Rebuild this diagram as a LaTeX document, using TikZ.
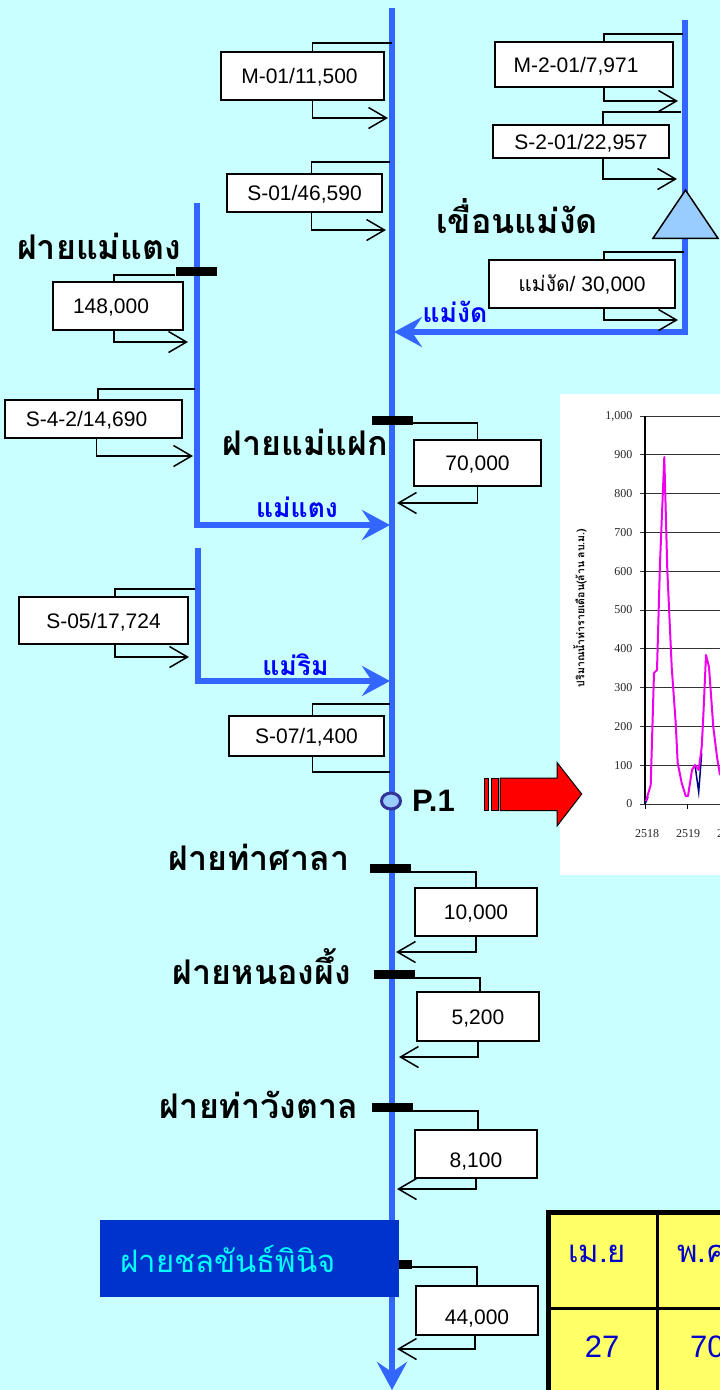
\documentclass[tikz,border=0pt]{standalone}
\usepackage{xcolor}
\usepackage{fontspec}
\usepackage{tikz}
\usetikzlibrary{arrows.meta,positioning,calc,shapes.geometric}
\setmainfont{Liberation Sans}
\newfontfamily\thaifont[Script=Thai]{Loma}
\newfontfamily\chartfont{Liberation Serif}
\definecolor{bgcyan}{HTML}{C9FFFF}
\definecolor{riverblue}{HTML}{3366FF}
\definecolor{damblue}{HTML}{99CCFF}
\definecolor{labelblue}{HTML}{0000FF}
\definecolor{weirblue}{HTML}{0033CC}
\definecolor{weircyan}{HTML}{00FFFF}
\definecolor{tableyellow}{HTML}{FFFF66}
\definecolor{tablefont}{HTML}{0000CC}
\definecolor{ringblue}{HTML}{333399}
\definecolor{peakmagenta}{HTML}{EE00EE}
\definecolor{basenavy}{HTML}{000080}

\begin{document}
\begin{tikzpicture}[x=1pt,y=-1pt,
  river/.style={draw=riverblue,line width=5.5pt},
  flowto/.style={river,-{Stealth[length=28pt,width=30pt,inset=10pt]}},
  gauge/.style={draw=black,line width=1.5pt,fill=white,inner sep=0pt,text height=15pt,text depth=0pt,font=\fontsize{21}{24}\selectfont,minimum width=#1},
  wire/.style={draw=black,line width=1.5pt},
  wirein/.style={wire,-{Straight Barb[length=18pt,width=21pt,line width=1.5pt]}},
  weirbar/.style={fill=black,inner sep=0pt,minimum width=41pt,minimum height=9pt},
  weirname/.style={inner sep=0pt,anchor=base,font=\thaifont\bfseries\fontsize{34}{38}\selectfont},
  rivername/.style={inner sep=0pt,anchor=base,text=labelblue,font=\thaifont\bfseries\fontsize{26.5}{30}\selectfont},
  ticklabel/.style={inner sep=0pt,font=\chartfont\fontsize{12}{14}\selectfont,text=black!85},
  tablecell/.style={inner sep=0pt,text=tablefont}]
\useasboundingbox (0,0) rectangle (720,1390);
\fill[bgcyan] (0,0) rectangle (720,1390);

% chart
\node[fill=white,inner sep=0pt,minimum width=160pt,minimum height=481pt] (chartbg) at (640,634.5) {};
\foreach \val/\txt in {0/0,100/100,200/200,300/300,400/400,500/500,600/600,700/700,800/800,900/900,1000/{1,000}}{
  \draw[black!80,line width=1pt] (640,804-\val*0.388) -- (720,804-\val*0.388);
  \node[ticklabel,anchor=east] (tick\val) at (632.5,804-\val*0.388) {\txt};
}
\draw[black,line width=1.5pt] (645,416) -- (645,804);
\draw[black,line width=1pt] (645,804) -- (645,809) (687,804) -- (687,809);
\node[ticklabel] (year18) at (647,834) {2518};
\node[ticklabel] (year19) at (688,834) {2519};
\node[ticklabel] (year20) at (729,834) {2520};
\node[inner sep=0pt,rotate=90,font=\thaifont\bfseries\fontsize{10.5}{12}\selectfont] (chartaxis) at (580,608) {ปริมาณน้ำท่ารายเดือน(ล้าน ลบ.ม.)};
\draw[basenavy,line width=1.5pt] (645,804) -- (648,797) (695,765) -- (698.7,792) -- (701.7,753);
\draw[peakmagenta,line width=2pt,line join=round] (646,801) -- (650.7,785) -- (654,673) -- (657,670) -- (660,563) -- (664.3,457) -- (667.3,570) -- (671.7,667) -- (675.7,723) -- (677.7,763) -- (681.7,783) -- (685.7,796) -- (688,796) -- (692,770) -- (695,765) -- (698.7,770) -- (701.7,747) -- (703,723) -- (706,655) -- (709,667) -- (713.3,727) -- (717,757) -- (720,775);

% rivers
\coordinate (maintop) at (392,8);
\coordinate (mainend) at (392,1390);
\coordinate (damtop) at (685,20);
\coordinate (damturn) at (685,332);
\coordinate (damjoin) at (394,332);
\coordinate (taengtop) at (197,203);
\coordinate (taengturn) at (197,525);
\coordinate (taengjoin) at (390,525);
\coordinate (rimtop) at (198,548);
\coordinate (rimturn) at (198,681);
\coordinate (rimjoin) at (390,681);
\draw[flowto] (maintop) -- (mainend);
\draw[flowto] (damtop) -- (damturn) -- (damjoin);
\draw[flowto] (taengtop) -- (taengturn) -- (taengjoin);
\draw[flowto] (rimtop) -- (rimturn) -- (rimjoin);

\node[rivername] (namengat) at (455,322) {แม่งัด};
\node[rivername] (nametaeng) at (297,517) {แม่แตง};
\node[rivername] (namerim) at (295.5,675) {แม่ริม};

% dam
\node[draw=black,line width=1.5pt,fill=damblue,isosceles triangle,isosceles triangle apex angle=68,shape border rotate=90,inner sep=0pt,minimum height=48pt,minimum width=65pt] (dam) at (685.5,221) {};
\node[weirname] (damname) at (517,233) {เขื่อนแม่งัด};

% weirs and their names
\node[weirbar] (barmaetaeng) at (196,271.5) {};
\node[weirbar] (barmaefak) at (392,420) {};
\node[weirbar] (barthasala) at (390.5,868.5) {};
\node[weirbar] (barnongphueng) at (394,974.5) {};
\node[weirbar] (barthawang) at (392,1107.5) {};
\node[weirbar,minimum width=13pt] (barchonlakhan) at (405.5,1264) {};
\node[weirname] (namemaetaeng) at (99,259) {ฝายแม่แตง};
\node[weirname] (namemaefak) at (305,455) {ฝายแม่แฝก};
\node[weirname] (namethasala) at (259,870) {ฝายท่าศาลา};
\node[weirname] (namenongphueng) at (262,984) {ฝายหนองผึ้ง};
\node[weirname] (namethawang) at (259,1118) {ฝายท่าวังตาล};
\node[fill=weirblue,text=weircyan,inner sep=0pt,minimum width=299pt,minimum height=77pt,font=\thaifont\fontsize{31}{36}\selectfont] (namechonlakhan) at (249.5,1258.5) {\hspace*{-43pt}ฝายชลขันธ์พินิจ};

% gauges on the main river
\node[gauge=163pt,minimum height=48pt] (mo) at (302.5,76) {M-01/11,500\kern 6pt};
\coordinate (moin) at (392,43);
\coordinate (moout) at (388,118);
\draw[wire] (moin) -| ([xshift=10pt]mo.north);
\draw[wirein] ([xshift=10pt]mo.south) |- (moout);
\node[gauge=155pt,minimum height=38pt] (so) at (304.5,193) {S-01/46,590};
\coordinate (soin) at (390,162);
\coordinate (soout) at (386,230);
\draw[wire] (soin) -| ([xshift=7pt]so.north);
\draw[wirein] ([xshift=7pt]so.south) |- (soout);
\node[gauge=155pt,minimum height=40pt] (ssev) at (306.5,736) {S-07/1,400};
\coordinate (ssevin) at (390,704);
\coordinate (ssevout) at (390,772);
\draw[wire] (ssevin) -| ([xshift=6pt]ssev.north);
\draw[wire] ([xshift=6pt]ssev.south) |- (ssevout);

% gauges on the Ngat branch
\node[gauge=178pt,minimum height=45pt] (mtwo) at (584,64.5) {M-2-01/7,971\kern 16pt};
\coordinate (mtwoin) at (683,34);
\coordinate (mtwoout) at (678,101);
\draw[wire] (mtwoin) -| ([xshift=20pt]mtwo.north);
\draw[wirein] ([xshift=20pt]mtwo.south) |- (mtwoout);
\node[gauge=176pt,minimum height=33pt] (stwo) at (581,141.5) {S-2-01/22,957};
\coordinate (stwoin) at (681,112);
\coordinate (stwoout) at (677,179);
\draw[wire] (stwoin) -| ([xshift=22pt]stwo.north);
\draw[wirein] ([xshift=22pt]stwo.south) |- (stwoout);
\node[gauge=186pt,minimum height=48pt] (ngat) at (582,284) {{\thaifont แม่งัด}/ 30,000};
\coordinate (ngatin) at (684,252);
\coordinate (ngatout) at (678,320);
\draw[wire] (ngatin) -| ([xshift=22pt]ngat.north);
\draw[wirein] ([xshift=22pt]ngat.south) |- (ngatout);

% gauges on the Taeng and Rim branches
\node[gauge=130pt,minimum height=48pt] (taeng) at (118,306) {148,000\kern 14pt};
\coordinate (taengout) at (188,342);
\draw[wire] ([yshift=-3.5pt]barmaetaeng.west) -| ([xshift=-4pt]taeng.north);
\draw[wirein] ([xshift=-4pt]taeng.south) |- (taengout);
\node[gauge=177pt,minimum height=38pt] (sfour) at (93.5,419) {S-4-2/14,690\kern 14pt};
\coordinate (sfourin) at (195,389);
\coordinate (sfourout) at (193,456);
\draw[wire] (sfourin) -| ([xshift=4.5pt]sfour.north);
\draw[wirein] ([xshift=3pt]sfour.south) |- (sfourout);
\node[gauge=169pt,minimum height=47pt] (sfive) at (103.5,620.5) {S-05/17,724};
\coordinate (sfivein) at (195,589);
\coordinate (sfiveout) at (189,657);
\draw[wire] (sfivein) -| ([xshift=11.5pt]sfive.north);
\draw[wirein] ([xshift=11.5pt]sfive.south) |- (sfiveout);

% weir demands
\node[gauge=127pt,minimum height=46pt] (fak) at (477.5,463) {70,000};
\coordinate (fakout) at (397,503);
\draw[wire] ([yshift=-3pt]barmaefak.east) -| (fak.north);
\draw[wirein] (fak.south) |- (fakout);
\node[gauge=122pt,minimum height=48pt] (sala) at (476,912) {10,000};
\coordinate (salaout) at (396,952);
\draw[wire] ([yshift=-3.5pt]barthasala.east) -| (sala.north);
\draw[wirein] (sala.south) |- (salaout);
\node[gauge=122pt,minimum height=49pt] (nong) at (478,1016.5) {5,200};
\coordinate (nongout) at (399,1057);
\draw[wire] ([yshift=-3.5pt]barnongphueng.east) -| ([xshift=2pt]nong.north);
\draw[wirein] (nong.south) |- (nongout);
\node[gauge=122pt,minimum height=48pt] (wang) at (476,1154) {\raisebox{-6pt}[0pt][0pt]{8,100}};
\coordinate (wangout) at (397,1189);
\draw[wire] ([yshift=-3.5pt]barthawang.east) -| ([xshift=2pt]wang.north);
\draw[wirein] (wang.south) |- (wangout);
\node[gauge=122pt,minimum height=49pt] (chon) at (477,1310.5) {\raisebox{-6pt}[0pt][0pt]{44,000}};
\coordinate (chonout) at (397,1349);
\draw[wire] ([yshift=-3pt]barchonlakhan.east) -| (chon.north);
\draw[wirein] ([xshift=-2pt]chon.south) |- (chonout);

% station and pointer to the chart
\node[ellipse,draw=ringblue,fill=damblue,line width=3pt,inner sep=0pt,minimum width=19pt,minimum height=16pt] (station) at (391,801) {};
\node[inner sep=0pt,font=\bfseries\fontsize{31}{34}\selectfont,right=10pt of station] (stationname) {P.1};
\node[draw=black,fill=red,line width=1pt,inner sep=0pt,minimum width=3.5pt,minimum height=32pt] (stripea) at (486.7,794.5) {};
\node[draw=black,fill=red,line width=1pt,inner sep=0pt,minimum width=6.5pt,minimum height=32pt,right=2.5pt of stripea] (stripeb) {};
\draw[black,fill=red,line width=1pt] (500,778) -- (557,778) -- (557,762.5) -- (581.7,794) -- (557,826) -- (557,810.5) -- (500,810.5) -- cycle;

% table
\fill[tableyellow] (546,1210) rectangle (720,1390);
\draw[black,line width=5pt] (548.5,1390) -- (548.5,1212.5) -- (720,1212.5);
\draw[black,line width=3pt] (657,1212) -- (657,1390) (548,1308) -- (720,1308);
\node[tablecell,font=\thaifont\fontsize{31}{36}\selectfont] (cellapr) at (597,1254) {เม.ย};
\node[tablecell,font=\thaifont\fontsize{31}{36}\selectfont,anchor=west] (cellmay) at (677,1254) {พ.ค};
\node[tablecell,font=\fontsize{31}{36}\selectfont] (valapr) at (602,1347) {27};
\node[tablecell,font=\fontsize{31}{36}\selectfont,anchor=west] (valmay) at (690,1347) {70};
\end{tikzpicture}
\end{document}
